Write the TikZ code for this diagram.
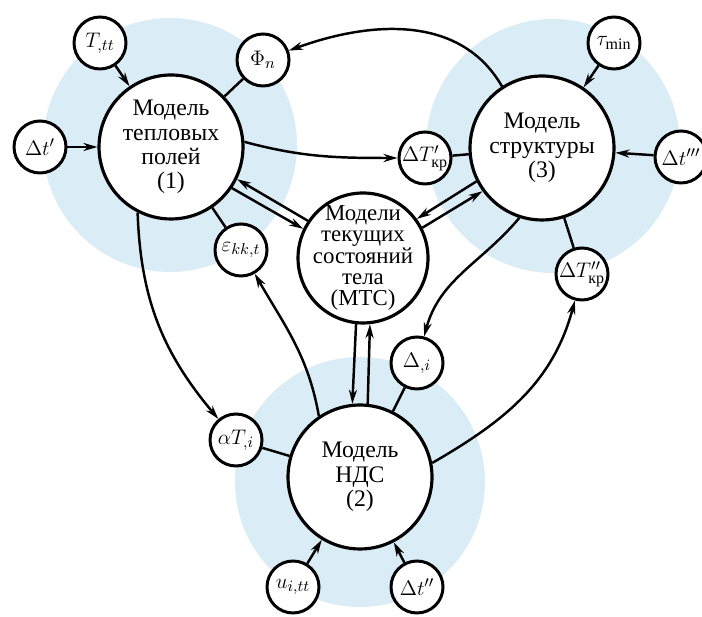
\documentclass[tikz,border=0pt]{standalone}
\usepackage{amsmath}
\usepackage{fontspec}
\setmainfont{Liberation Serif}
\usetikzlibrary{arrows.meta}
\definecolor{halo}{RGB}{218,237,246}

\begin{document}
\begin{tikzpicture}[x=0.02cm,y=0.02cm,
        model/.style={circle,draw,line width=1.8pt,fill=white,minimum size=2.88cm,inner sep=-0.6cm,align=center,font=\fontsize{13.5}{13.9}\selectfont},
        param/.style={circle,draw,line width=1.7pt,fill=white,minimum size=1.04cm,inner sep=-3pt,font=\fontsize{13}{14}\selectfont},
        link/.style={line width=1.4pt},
        >={Stealth[length=8pt,width=4.6pt]}]
                \useasboundingbox (0,0) rectangle (702,617);
                \fill[halo] (170,472) circle (2.54cm) (553,471) circle (2.54cm) (360,135) circle (2.5cm);

                \node[model] (thermal) at (171,470) {Модель\\тепловых\\полей\\(1)};
                \node[model] (struct) at (542,469) {Модель\\структуры\\(3)};
                \node[model] (stress) at (360,140) {Модель\\НДС\\(2)};
                \node[model,minimum size=2.6cm,font=\fontsize{13}{12}\selectfont] (mtc) at (363,359) {Модели\\текущих\\состояний\\тела\\(МТС)};

                \node[param] (Ttt) at (100,574) {$T_{,tt}$};
                \node[param] (Phin) at (263,557) {$\Phi_n$};
                \node[param] (dt1) at (40,470) {$\Delta t'$};
                \node[param] (eps) at (241,367) {$\varepsilon_{kk,t}$};
                \node[param] (tau) at (614,574) {$\tau_{\min}$};
                \node[param] (dTkr1) at (425,459) {$\Delta T'_{\text{кр}}$};
                \node[param] (dt3) at (681,460) {$\Delta t'''$};
                \node[param] (dTkr2) at (582,343) {$\Delta T''_{\text{кр}}$};
                \node[param] (Di) at (417,254) {$\Delta_{,i}$};
                \node[param] (aTi) at (236,177) {$\alpha T_{,i}$};
                \node[param] (uitt) at (293,30) {$u_{i,tt}$};
                \node[param] (dt2) at (417,30) {$\Delta t''$};

                \draw[link,->] (Ttt) to (thermal); \draw[link,->] (dt1) to (thermal); \draw[link] (Phin) to (thermal); \draw[link] (eps) to (thermal);
                \draw[link,->] (tau) to (struct); \draw[link,->] (dt3) to (struct); \draw[link] (dTkr1) to (struct); \draw[link] (dTkr2) to (struct);
                \draw[link,->] (uitt) to (stress); \draw[link,->] (dt2) to (stress); \draw[link] (Di) to (stress); \draw[link] (aTi) to (stress);

                \draw[link,->] (struct.123) to[out=120,in=20] (Phin);
                \draw[link,->] (thermal.4) to[out=-15,in=180] (dTkr1);
                \draw[link,->] (thermal.243) to[out=-88,in=130] (aTi);
                \draw[link,->] (stress.124) to[out=100,in=-60] (eps);
                \draw[link,->] (struct.252) to[out=-130,in=75] (Di);
                \draw[link,->] (stress.11) to[out=30,in=-105] (dTkr2);

                \draw[link,->] (mtc.146) to (thermal.-26); \draw[link,->] (thermal.-34) to (mtc.154);
                \draw[link,->] (struct.207) to (mtc.36); \draw[link,->] (mtc.27) to (struct.216);
                \draw[link,->] (mtc.-96) to (stress.96); \draw[link,->] (stress.84) to (mtc.-84);
            \end{tikzpicture}
\end{document}
